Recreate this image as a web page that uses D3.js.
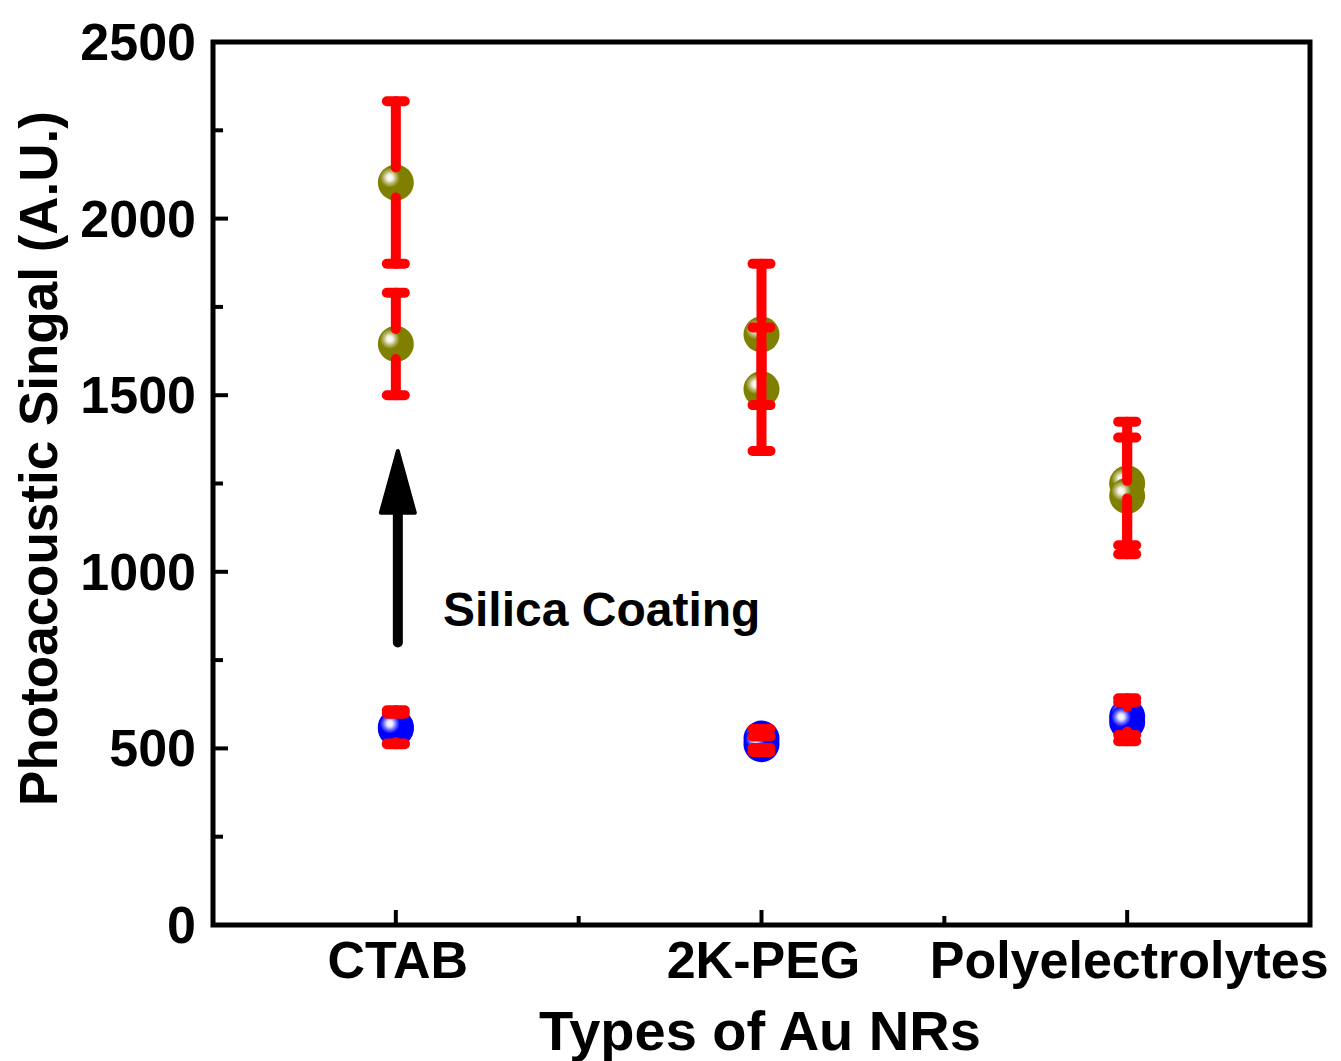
<!DOCTYPE html>
<html>
<head>
<meta charset="utf-8">
<script src="https://cdn.jsdelivr.net/npm/d3@7"></script>
<style>
  body { margin: 0; background: #fff; }
  text { font-family: "Liberation Sans", Arial, sans-serif; font-weight: bold; fill: #000; }
</style>
</head>
<body>
<div id="container"></div>
<script>
// categories and values
const categories = ['CTAB', '2K-PEG', 'Polyelectrolytes']
const coatedA = [2102, 1672, 1250]
const coatedAErr = [230, 200, 175]
const coatedB = [1645, 1517, 1215]
const coatedBErr = [145, 175, 165]
const bareA = [560, 528, 590]
const bareAErr = [48, 27, 52]
const bareB = [556, 512, 575]
const bareBErr = [42, 22, 55]
const yTicks = [0, 500, 1000, 1500, 2000, 2500]
const yMinor = [250, 750, 1250, 1750, 2250]

const W = 1341, H = 1061
const plotLeft = 213, plotRight = 1310, plotTop = 42, plotBottom = 925

const svg = d3.select('#container').append('svg')
  .attr('width', W).attr('height', H)

const x = d3.scaleLinear().domain([0.5, 3.5]).range([plotLeft, plotRight])
const y = d3.scaleLinear().domain([0, 2500]).range([plotBottom, plotTop])

//gradient for the shiny markers
const defs = svg.append('defs')
const shine = defs.append('radialGradient').attr('id', 'shine')
shine.append('stop').attr('offset', '0%').attr('stop-color', '#fff').attr('stop-opacity', 1)
shine.append('stop').attr('offset', '30%').attr('stop-color', '#fff').attr('stop-opacity', 0.9)
shine.append('stop').attr('offset', '65%').attr('stop-color', '#fff').attr('stop-opacity', 0.4)
shine.append('stop').attr('offset', '100%').attr('stop-color', '#fff').attr('stop-opacity', 0)

// ticks (inward)
const tickG = svg.append('g').attr('stroke', '#000').attr('stroke-width', 4)
yTicks.forEach(t => {
  tickG.append('line').attr('x1', plotLeft).attr('x2', plotLeft + 15).attr('y1', y(t)).attr('y2', y(t))
})
yMinor.forEach(t => {
  tickG.append('line').attr('x1', plotLeft).attr('x2', plotLeft + 10).attr('y1', y(t)).attr('y2', y(t))
})
categories.forEach((c, i) => {
  tickG.append('line').attr('x1', x(i + 1)).attr('x2', x(i + 1)).attr('y1', plotBottom).attr('y2', plotBottom - 15)
})
;[1.5, 2.5].forEach(t => {
  tickG.append('line').attr('x1', x(t)).attr('x2', x(t)).attr('y1', plotBottom).attr('y2', plotBottom - 9)
})

// frame
svg.append('rect')
  .attr('x', plotLeft).attr('y', plotTop)
  .attr('width', plotRight - plotLeft).attr('height', plotBottom - plotTop)
  .attr('fill', 'none').attr('stroke', '#000').attr('stroke-width', 5)

// tick labels
svg.append('g').selectAll('text').data(yTicks).enter().append('text')
  .attr('x', 196).attr('y', d => y(d) + 18)
  .attr('text-anchor', 'end').attr('font-size', 52)
  .text(d => d)

svg.append('g').selectAll('text').data(categories).enter().append('text')
  .attr('x', (d, i) => x(i + 1) + 2).attr('y', 978)
  .attr('text-anchor', 'middle').attr('font-size', 52)
  .text(d => d)

// axis titles
svg.append('text')
  .attr('x', 760).attr('y', 1050)
  .attr('text-anchor', 'middle').attr('font-size', 56)
  .text('Types of Au NRs')

svg.append('text')
  .attr('transform', `translate(57, ${(plotTop + plotBottom) / 2 - 25}) rotate(-90)`)
  .attr('text-anchor', 'middle').attr('font-size', 53)
  .text('Photoacoustic Singal (A.U.)')

// markers
const r = 18
const points = []
categories.forEach((c, i) => {
  points.push({ i, v: coatedA[i], e: coatedAErr[i], fill: '#808000' })
  points.push({ i, v: coatedB[i], e: coatedBErr[i], fill: '#808000' })
  points.push({ i, v: bareA[i], e: bareAErr[i], fill: '#0000ff' })
  points.push({ i, v: bareB[i], e: bareBErr[i], fill: '#0000ff' })
})

const markG = svg.append('g')
points.forEach(p => {
  const cx = x(p.i + 1), cy = y(p.v)
  markG.append('circle').attr('cx', cx).attr('cy', cy).attr('r', r).attr('fill', p.fill)
  markG.append('circle').attr('cx', cx - 6).attr('cy', cy - 5).attr('r', 10).attr('fill', 'url(#shine)')
})

// error bars drawn from the marker edge outward
const errG = svg.append('g')
  .attr('stroke', '#ff0000').attr('stroke-width', 10).attr('stroke-linecap', 'round')
points.forEach(p => {
  const cx = x(p.i + 1), cy = y(p.v)
  const yt = y(p.v + p.e), yb = y(p.v - p.e)
  if (cy - 15 > yt) errG.append('line').attr('x1', cx).attr('x2', cx).attr('y1', cy - 15).attr('y2', yt)
  if (cy + 15 < yb) errG.append('line').attr('x1', cx).attr('x2', cx).attr('y1', cy + 15).attr('y2', yb)
  errG.append('line').attr('x1', cx - 9).attr('x2', cx + 9).attr('y1', yt).attr('y2', yt)
  errG.append('line').attr('x1', cx - 9).attr('x2', cx + 9).attr('y1', yb).attr('y2', yb)
})

// arrow annotation
const ax = x(1) + 2
const arrowBase = 800, arrowHead = 1167, arrowTip = 1342
svg.append('line')
  .attr('x1', ax).attr('x2', ax).attr('y1', y(arrowBase)).attr('y2', y(arrowHead) + 2)
  .attr('stroke', '#000').attr('stroke-width', 10).attr('stroke-linecap', 'round')
svg.append('path')
  .attr('d', `M${ax},${y(arrowTip)} L${ax + 17},${y(arrowHead)} L${ax - 17},${y(arrowHead)} Z`)
  .attr('fill', '#000').attr('stroke', '#000').attr('stroke-width', 4).attr('stroke-linejoin', 'round')

svg.append('text')
  .attr('x', 443).attr('y', 626)
  .attr('font-size', 48)
  .text('Silica Coating')
</script>
</body>
</html>
